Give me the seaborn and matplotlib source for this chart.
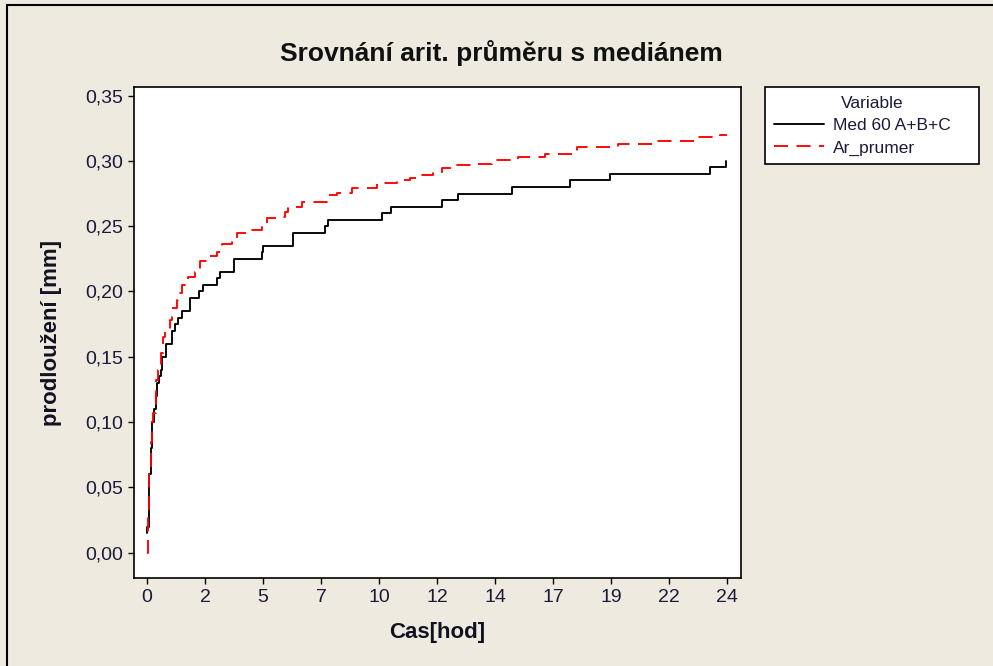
import numpy as np
import pandas as pd
import matplotlib
matplotlib.use("Agg")
import matplotlib.pyplot as plt
import seaborn as sns
from matplotlib.patches import Rectangle

# ---- data ----
med_time = [0.00, 0.01, 0.08, 0.15, 0.22, 0.29, 0.36, 0.43, 0.50, 0.57, 0.63, 0.80,
            1.02, 1.16, 1.30, 1.43, 1.78, 2.17, 2.30, 2.88, 3.02, 3.61, 4.74, 4.80,
            6.05, 7.36, 7.50, 9.74, 10.08, 12.19, 12.85, 15.09, 17.50, 19.16, 23.29, 23.95]
med_value = [0.015, 0.02, 0.06, 0.08, 0.10, 0.11, 0.12, 0.13, 0.135, 0.14, 0.15, 0.16,
             0.17, 0.175, 0.18, 0.185, 0.195, 0.20, 0.205, 0.21, 0.215, 0.225, 0.23, 0.235,
             0.245, 0.25, 0.255, 0.26, 0.265, 0.27, 0.275, 0.28, 0.285, 0.29, 0.295, 0.30]

ar_time = [0.00, 0.02, 0.08, 0.15, 0.22, 0.26, 0.36, 0.47, 0.57, 0.68, 0.74,
           0.95, 1.05, 1.23, 1.30, 1.43, 1.57, 1.71, 1.99, 2.19, 2.54,
           2.88, 3.09, 3.50, 3.71, 4.19, 4.74, 4.95, 5.50, 5.71, 5.85,
           6.12, 6.40, 7.43, 7.85, 8.47, 9.50, 10.33, 10.88, 11.36, 11.85,
           12.19, 12.84, 13.71, 14.29, 15.36, 16.47, 17.61, 17.80, 19.50, 21.09,
           22.81, 23.71, 24.00]
ar_value = [0.0, 0.03, 0.065, 0.085, 0.10, 0.107, 0.132, 0.14, 0.153, 0.165, 0.171,
            0.178, 0.187, 0.1935, 0.1986, 0.205, 0.209, 0.211, 0.215, 0.223, 0.227,
            0.2305, 0.236, 0.240, 0.2446, 0.247, 0.2496, 0.256, 0.257, 0.261, 0.2637,
            0.2645, 0.2688, 0.274, 0.2757, 0.279, 0.2828, 0.2854, 0.2867, 0.289, 0.2917,
            0.2943, 0.297, 0.298, 0.301, 0.303, 0.305, 0.307, 0.3104, 0.3129, 0.3155,
            0.318, 0.3198, 0.3198]

series_names = ["Med 60 A+B+C", "Ar_prumer"]
x_tick_labels = ["0", "2", "5", "7", "10", "12", "14", "17", "19", "22", "24"]
y_tick_values = [0.00, 0.05, 0.10, 0.15, 0.20, 0.25, 0.30, 0.35]
y_tick_labels = ["0,00", "0,05", "0,10", "0,15", "0,20", "0,25", "0,30", "0,35"]

title_text = "Srovnání arit. průměru s mediánem"
x_label = "Cas[hod]"
y_label = "prodloužení [mm]"

# ---- styling ----
BG = "#EEEAE0"
sns.set_theme(style="ticks")
plt.rcParams["font.family"] = ["Liberation Sans", "DejaVu Sans"]

df = pd.concat([
    pd.DataFrame({"time": med_time, "value": med_value, "Variable": series_names[0]}),
    pd.DataFrame({"time": ar_time, "value": ar_value, "Variable": series_names[1]}),
], ignore_index=True)

fig = plt.figure(figsize=(9.93, 6.66), dpi=100, facecolor=BG)
W, H = 993, 666
ax = fig.add_axes([134 / W, 1 - 578 / H, (741 - 134) / W, (578 - 87) / H])
ax.set_facecolor("white")

sns.lineplot(data=df, x="time", y="value", hue="Variable", style="Variable",
             palette={series_names[0]: "black", series_names[1]: "red"},
             dashes={series_names[0]: "", series_names[1]: (7.5, 4.5)},
             drawstyle="steps-post", estimator=None, errorbar=None,
             linewidth=1.35, ax=ax, legend=True)

ax.set_xlim(-0.54, 24.58)
ax.set_ylim(-0.0194, 0.3566)
ax.set_xticks(np.linspace(0, 24, len(x_tick_labels)))
ax.set_xticklabels(x_tick_labels)
ax.set_yticks(y_tick_values)
ax.set_yticklabels(y_tick_labels)
ax.tick_params(direction="out", length=4, width=1.0, colors="black",
               labelsize=14, pad=4, labelcolor="#1a1a3a")

for s in ax.spines.values():
    s.set_visible(True)
    s.set_color("black")
    s.set_linewidth(1.2)

ax.set_xlabel(x_label, fontsize=16, fontweight="bold", color="#111122")
ax.set_ylabel(y_label, fontsize=16, fontweight="bold", color="#111122")
ax.xaxis.set_label_coords(0.5, -0.09)
ax.yaxis.set_label_coords(-0.118, 0.5)

fig.text(0.505, 1 - 53 / H, title_text, ha="center", va="center",
         fontsize=19, fontweight="bold", color="#111111")

handles, labels = ax.get_legend_handles_labels()
leg = ax.legend(handles, labels, title="Variable", fontsize=12.5, title_fontsize=12.5,
                loc="upper left", bbox_to_anchor=(765 / W, 1 - 167 / H, 214 / W, 80 / H),
                bbox_transform=fig.transFigure, mode="expand", borderaxespad=0,
                frameon=True, fancybox=False, edgecolor="black", framealpha=1,
                handlelength=2.9, handletextpad=0.5, labelspacing=0.42, borderpad=0.5)
leg.get_frame().set_linewidth(1.2)
for t in leg.get_texts():
    t.set_color("#1a1a3a")
leg.get_title().set_color("#1a1a3a")

fig.patches.append(Rectangle((7 / W, -0.05), 1.0, 1 - 5 / H + 0.05,
                             transform=fig.transFigure, fill=False,
                             edgecolor="black", linewidth=1.5))

fig.savefig("out.png", dpi=100, facecolor=BG)
